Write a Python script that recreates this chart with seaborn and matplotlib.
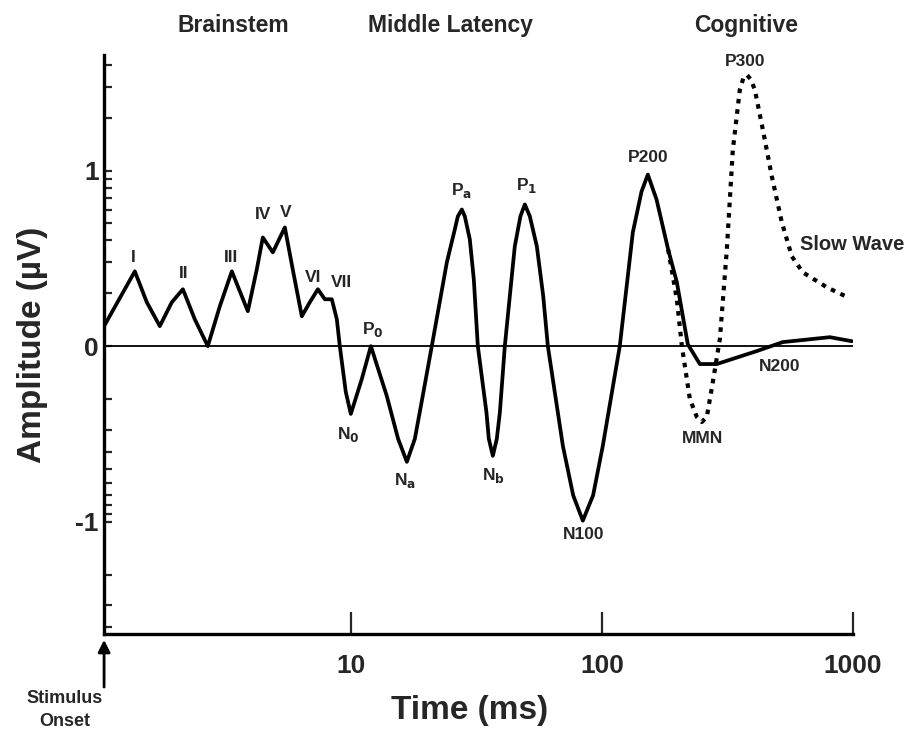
import numpy as np
import pandas as pd
import seaborn as sns
import matplotlib.pyplot as plt

sns.set_theme(style="white")
plt.rcParams['font.family'] = ['Liberation Sans Narrow', 'Liberation Sans', 'DejaVu Sans']
plt.rcParams['font.weight'] = 'bold'
plt.rcParams['mathtext.default'] = 'bf'

# solid waveform: time (ms), amplitude (uV)
solid_ms = [1.04, 1.379, 1.539, 1.734, 1.936, 2.143, 2.39, 2.693, 3.007, 3.357,
            3.68, 3.888, 4.222, 4.461, 4.89, 5.46, 5.87, 6.38, 6.866, 7.39,
            7.88, 8.40, 8.796, 9.04, 9.55, 10.0, 11.06, 12.02, 13.91, 15.43,
            16.72, 17.99, 18.83, 21.02, 24.13, 25.96, 26.69, 27.69, 28.46, 29.79,
            30.9, 32.06, 34.7, 35.46, 36.8, 38.16, 39.25, 41.07, 45.0, 47.4,
            49.34, 51.65, 55.1, 58.4, 60.95, 69.95, 76.9, 84.0, 92.3, 100.9,
            117.9, 132.9, 143.9, 152.5, 165.2, 183.7, 199.0, 220.0, 245.7, 287.2,
            414.6, 526.0, 810.0, 991.0]
solid_uv = [0.114, 0.426, 0.25, 0.114, 0.25, 0.324, 0.153, 0.0, 0.227, 0.426,
            0.284, 0.199, 0.4375, 0.619, 0.534, 0.676, 0.4375, 0.17, 0.25, 0.324,
            0.267, 0.267, 0.153, 0.0, -0.261, -0.386, -0.1875, 0.0, -0.284, -0.528,
            -0.659, -0.528, -0.375, 0.0, 0.477, 0.665, 0.739, 0.778, 0.739, 0.608,
            0.381, 0.0, -0.377, -0.528, -0.625, -0.528, -0.377, 0.0, 0.568, 0.74,
            0.807, 0.74, 0.568, 0.286, 0.0, -0.568, -0.85, -0.994, -0.85, -0.568,
            0.0, 0.648, 0.88, 0.977, 0.835, 0.551, 0.364, 0.011, -0.102, -0.102,
            -0.028, 0.023, 0.051, 0.028]

# dotted cognitive branch (MMN / P300 / slow wave)
dotted_ms = [183.7, 199.0, 208.4, 224.2, 239.0, 250.2, 262.0, 276.8, 295.3, 314.8,
             332.6, 354.6, 366.0, 378.2, 392.0, 407.0, 438.0, 475.7, 521.3, 571.5,
             632.3, 787.8, 955.2]
dotted_uv = [0.551, 0.267, 0.0, -0.301, -0.403, -0.432, -0.403, -0.2045, 0.04, 0.551,
             1.119, 1.46, 1.525, 1.545, 1.52, 1.46, 1.233, 0.966, 0.705, 0.511,
             0.42, 0.335, 0.278]

# component labels: text, time (ms), amplitude (uV)
peak_names = ['I', 'II', 'III', 'IV', 'V', 'VI', 'VII', 'P$_0$', 'N$_0$', 'N$_a$',
              'P$_a$', 'N$_b$', 'P$_1$', 'N100', 'P200', 'P300', 'MMN', 'N200']
peak_ms = [1.353, 2.16, 3.33, 4.46, 5.5, 7.1, 9.2, 12.2, 9.8, 16.4,
           27.7, 37.1, 50.0, 85.0, 152.5, 372.0, 252.0, 512.0]
peak_uv = [0.506, 0.415, 0.506, 0.75, 0.76, 0.39, 0.364, 0.097, -0.506, -0.767,
           0.886, -0.739, 0.915, -1.074, 1.074, 1.62, -0.528, -0.114]

solid = pd.DataFrame({'Time': solid_ms, 'Amplitude': solid_uv})
dotted = pd.DataFrame({'Time': dotted_ms, 'Amplitude': dotted_uv})

fig = plt.figure(figsize=(9.21, 7.39), dpi=100)
ax = fig.add_axes([0.113, 0.142, 0.813, 0.784])
ax.set_xscale('log')

ax.axhline(0, color='black', lw=1.3, zorder=1)
sns.lineplot(data=solid, x='Time', y='Amplitude', ax=ax, color='black', lw=2.7,
             solid_joinstyle='round', zorder=3)
sns.lineplot(data=dotted, x='Time', y='Amplitude', ax=ax, color='black', lw=3,
             linestyle=(0, (1.1, 1.4)), zorder=2)

for name, x, y in zip(peak_names, peak_ms, peak_uv):
    ax.text(x, y, name, ha='center', va='center', fontsize=12.5, fontweight='bold')
ax.text(615, 0.58, 'Slow Wave', ha='left', va='center', fontsize=14.5, fontweight='bold')

ax.set_xlim(1.04, 1000)
ax.set_ylim(-1.64, 1.66)

ax.set_xticks([10, 100, 1000])
ax.set_xticklabels(['10', '100', '1000'])
ax.xaxis.set_minor_locator(plt.NullLocator())
ax.set_yticks([-1, 0, 1])
ax.set_yticklabels(['-1', '0', '1'])
minor = np.log10([2, 3, 4, 5, 6, 7, 8, 9, 20, 30, 40])
ax.set_yticks(np.concatenate([-minor, minor]), minor=True)

ax.tick_params(axis='x', which='major', direction='in', length=16, width=1.6,
               labelsize=19, pad=14, bottom=True)
ax.tick_params(axis='y', which='both', direction='in', length=6, width=1.6,
               labelsize=19, pad=4, left=True)
for lbl in ax.get_xticklabels() + ax.get_yticklabels():
    lbl.set_fontweight('bold')

sns.despine(ax=ax)
for side in ['left', 'bottom']:
    ax.spines[side].set_linewidth(2.4)
    ax.spines[side].set_color('black')

ax.set_xlabel('')
ax.set_ylabel('')
fig.text(0.51, 0.039, 'Time (ms)', ha='center', va='center', fontsize=24, fontweight='bold')
fig.text(0.035, 0.533, 'Amplitude (µV)', ha='center', va='center', rotation=90,
         fontsize=24, fontweight='bold')

fig.text(0.253, 0.966, 'Brainstem', ha='center', va='center', fontsize=16.5, fontweight='bold')
fig.text(0.489, 0.966, 'Middle Latency', ha='center', va='center', fontsize=16.5, fontweight='bold')
fig.text(0.81, 0.966, 'Cognitive', ha='center', va='center', fontsize=16.5, fontweight='bold')

ax.annotate('', xy=(1.04, -0.01), xycoords=('data', 'axes fraction'),
            xytext=(0, -34), textcoords='offset points',
            arrowprops=dict(arrowstyle='-|>', lw=2, color='black', mutation_scale=18,
                            shrinkA=0, shrinkB=0))
fig.text(65 / 921, 1 - 710 / 739, 'Stimulus\nOnset', ha='center', va='center',
         fontsize=13, fontweight='bold', linespacing=1.4)

fig.savefig('out.png', dpi=100)
